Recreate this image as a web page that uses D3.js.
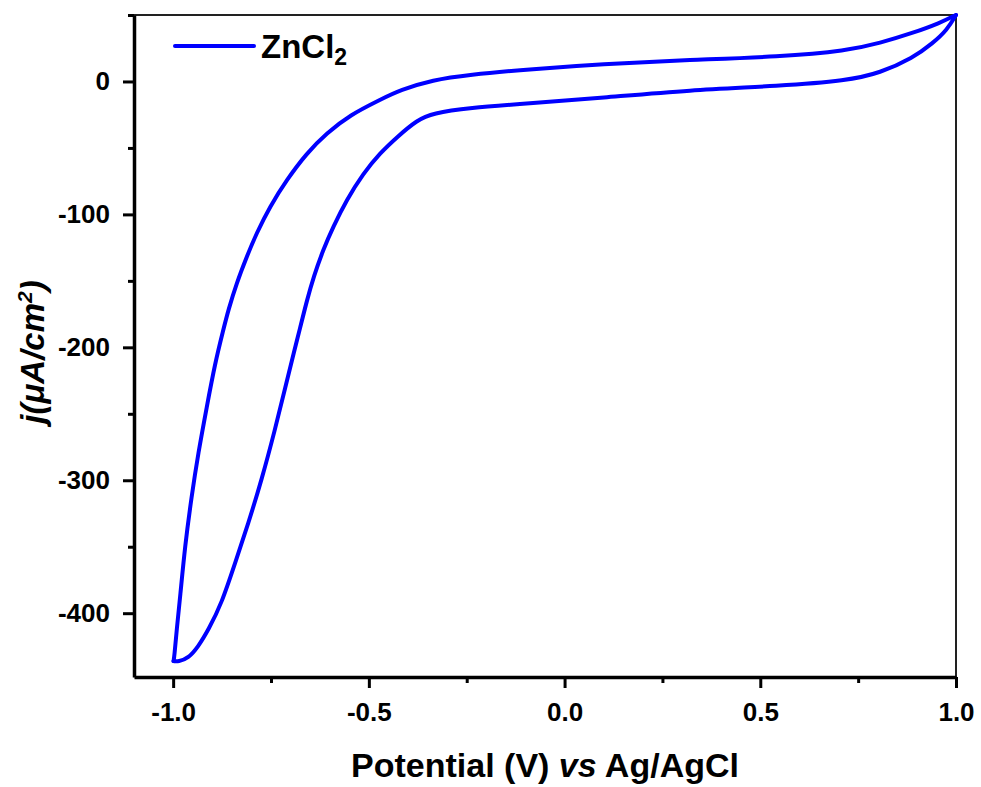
<!DOCTYPE html>
<html>
<head>
<meta charset="utf-8">
<script src="https://cdn.jsdelivr.net/npm/d3@7/dist/d3.min.js"></script>
<style>
  html, body { margin: 0; padding: 0; background: #fff; }
  svg { display: block; font-family: "Liberation Sans", Arial, sans-serif; }
</style>
</head>
<body>
<svg id="chart" width="981" height="787"></svg>
<script>
// ---- data ----
const seriesName = "ZnCl";
// branch 1: from +1.0 V down to -1.0 V (upper curve)
const upperV = [1.0, 0.959, 0.890, 0.806, 0.722, 0.550, 0.320, 0.091, -0.081, -0.249, -0.336, -0.420, -0.472, -0.548, -0.608, -0.659, -0.710, -0.753, -0.787, -0.812, -0.838, -0.859, -0.872, -0.893, -0.914, -0.936, -0.953, -0.970, -0.982, -0.991, -0.997, -0.999];
const upperJ = [50, 44.0, 36.5, 28.9, 23.1, 18.6, 16.2, 13.1, 9.4, 4.9, 1.1, -6.4, -13.9, -25.2, -39.0, -54.0, -74.1, -94.2, -114.2, -131.8, -151.8, -171.9, -187.0, -212.0, -244.7, -279.7, -312.4, -350.0, -387.6, -412.6, -432.7, -436.0];
// branch 2: from -1.0 V back up to +1.0 V (lower curve)
const lowerV = [-0.999, -0.987, -0.961, -0.936, -0.910, -0.876, -0.842, -0.808, -0.774, -0.740, -0.713, -0.690, -0.677, -0.658, -0.641, -0.617, -0.591, -0.557, -0.514, -0.472, -0.428, -0.377, -0.336, -0.249, -0.081, 0.091, 0.320, 0.550, 0.722, 0.806, 0.890, 0.941, 0.977, 1.0];
const lowerJ = [-436.0, -436.5, -433.9, -425.2, -412.6, -392.6, -362.5, -332.4, -299.8, -262.2, -229.6, -202.0, -187.0, -164.4, -146.9, -126.8, -109.3, -89.2, -69.1, -54.0, -41.8, -29.0, -23.9, -20.0, -16.2, -12.4, -6.4, -3.4, 0.6, 6.4, 17.7, 28.9, 38.7, 50];
const xMajorTicks = [-1.0, -0.5, 0.0, 0.5, 1.0];
const xMinorTicks = [-0.75, -0.25, 0.25, 0.75];
const yMajorTicks = [0, -100, -200, -300, -400];
const yMinorTicks = [50, -50, -150, -250, -350];

// ---- layout ----
const svg = d3.select("#chart");
const L = 134, R = 956, T = 15, B = 677;
const x = d3.scaleLinear().domain([-1.1, 1.0]).range([L, R]);
const y = d3.scaleLinear().domain([-448, 50]).range([B, T]);

const upper = upperV.map((v, i) => [v, upperJ[i]]);
const lower = lowerV.map((v, i) => [v, lowerJ[i]]);

// frame (top/right thin)
svg.append("line").attr("x1", L).attr("x2", R).attr("y1", T).attr("y2", T)
  .attr("stroke", "#222").attr("stroke-width", 2);
svg.append("line").attr("x1", R).attr("x2", R).attr("y1", T).attr("y2", B)
  .attr("stroke", "#222").attr("stroke-width", 2);

// curve
const line = d3.line().x(d => x(d[0])).y(d => y(d[1])).curve(d3.curveBasis);
svg.selectAll("path.cv").data([upper, lower]).join("path").attr("class", "cv").attr("d", line)
  .attr("fill", "none").attr("stroke", "#0000ff").attr("stroke-width", 4)
  .attr("stroke-linejoin", "round").attr("stroke-linecap", "round");

// axes
const hy = s => s.replace("\u2212", "-");
const fmtX = v => hy(d3.format(".1f")(v));
const fmtY = v => hy(d3.format("d")(v));
const gx = svg.append("g").attr("transform", `translate(0,${B})`)
  .call(d3.axisBottom(x).tickValues(xMajorTicks).tickFormat(fmtX).tickSize(11).tickSizeOuter(0).tickPadding(15));
gx.append("g").call(d3.axisBottom(x).tickValues(xMinorTicks).tickFormat("").tickSize(6).tickSizeOuter(0))
  .select(".domain").remove();
const gy = svg.append("g").attr("transform", `translate(${L},0)`)
  .call(d3.axisLeft(y).tickValues(yMajorTicks).tickFormat(fmtY).tickSize(11).tickSizeOuter(0).tickPadding(13));
gy.append("g").call(d3.axisLeft(y).tickValues(yMinorTicks).tickFormat("").tickSize(6).tickSizeOuter(0))
  .select(".domain").remove();

svg.selectAll(".domain").attr("stroke", "#000").attr("stroke-width", 3.5);
svg.selectAll(".tick line").attr("stroke", "#000").attr("stroke-width", 3);
svg.selectAll(".tick text").attr("fill", "#000")
  .style("font-family", '"Liberation Sans", Arial, sans-serif')
  .style("font-size", "26px").style("font-weight", "bold");

// x title
const xt = svg.append("text").attr("x", (L + R) / 2).attr("y", 777).attr("text-anchor", "middle")
  .style("font-size", "34px").style("font-weight", "bold").attr("fill", "#000");
xt.append("tspan").text("Potential (V) ");
xt.append("tspan").style("font-style", "italic").text("vs");
xt.append("tspan").text(" Ag/AgCl");

// y title
const yt = svg.append("text").attr("transform", "translate(44,352) rotate(-90)").attr("text-anchor", "middle")
  .style("font-size", "33px").style("font-weight", "bold").style("font-style", "italic").attr("fill", "#000");
yt.append("tspan").text("j(μA/cm");
yt.append("tspan").attr("dy", -12).style("font-size", "21px").text("2");
yt.append("tspan").attr("dy", 12).text(")");

// legend
svg.append("line").attr("x1", 175).attr("x2", 254).attr("y1", 46).attr("y2", 46)
  .attr("stroke", "#0000ff").attr("stroke-width", 4).attr("stroke-linecap", "round");
const lg = svg.append("text").attr("x", 261).attr("y", 58)
  .style("font-size", "33px").style("font-weight", "bold").attr("fill", "#000");
lg.append("tspan").text(seriesName);
lg.append("tspan").attr("dy", 7).style("font-size", "23px").text("2");
</script>
</body>
</html>
